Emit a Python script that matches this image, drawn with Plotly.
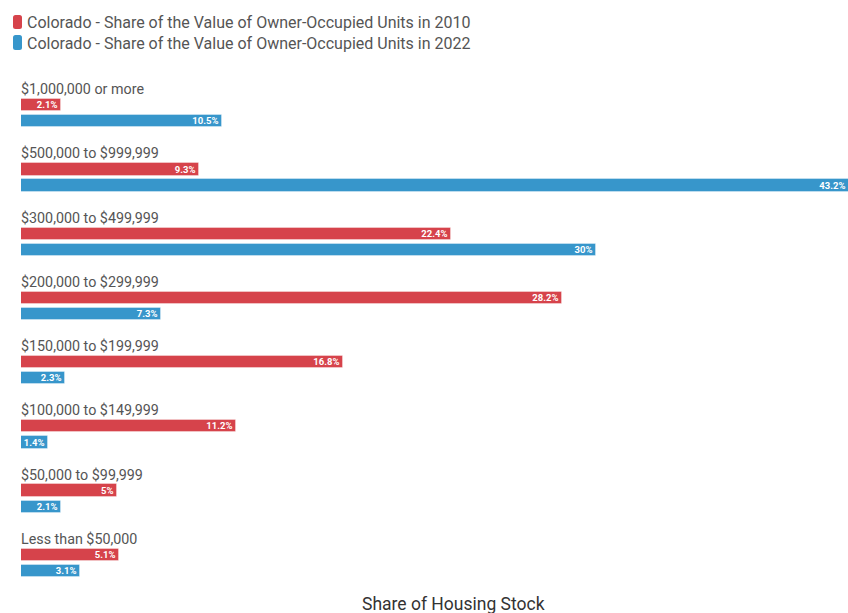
import plotly.graph_objects as go

# Value bands, top to bottom
categories = [
    "$1,000,000 or more",
    "$500,000 to $999,999",
    "$300,000 to $499,999",
    "$200,000 to $299,999",
    "$150,000 to $199,999",
    "$100,000 to $149,999",
    "$50,000 to $99,999",
    "Less than $50,000",
]
share_2010 = [2.1, 9.3, 22.4, 28.2, 16.8, 11.2, 5, 5.1]
share_2022 = [10.5, 43.2, 30, 7.3, 2.3, 1.4, 2.1, 3.1]
series_names = [
    "Colorado - Share of the Value of Owner-Occupied Units in 2010",
    "Colorado - Share of the Value of Owner-Occupied Units in 2022",
]
axis_title = "Share of Housing Stock"

RED = "#d6434b"
BLUE = "#3796cb"
W, H = 848, 613
M_L, M_R, M_T, M_B = 21, 0, 57, 10
PLOT_W = W - M_L - M_R
PLOT_H = H - M_T - M_B


def px_x(p):
    return (p - M_L) / PLOT_W


def px_y(p):
    return 1 + (M_T - p) / PLOT_H


def rounded_rect(x0, y0, x1, y1, r):
    """SVG path (paper coords) for a rectangle with rounded corners, given in pixels."""
    X = lambda p: px_x(p)
    Y = lambda p: px_y(p)
    return (
        f"M{X(x0 + r)},{Y(y0)} L{X(x1 - r)},{Y(y0)} Q{X(x1)},{Y(y0)} {X(x1)},{Y(y0 + r)} "
        f"L{X(x1)},{Y(y1 - r)} Q{X(x1)},{Y(y1)} {X(x1 - r)},{Y(y1)} "
        f"L{X(x0 + r)},{Y(y1)} Q{X(x0)},{Y(y1)} {X(x0)},{Y(y1 - r)} "
        f"L{X(x0)},{Y(y0 + r)} Q{X(x0)},{Y(y0)} {X(x0 + r)},{Y(y0)} Z"
    )


idx = list(range(len(categories)))
y_2010 = [i + 0.25 for i in idx]
y_2022 = [i + 0.5 for i in idx]

fig = go.Figure()
for ys, vals, color, name in [
    (y_2010, share_2010, RED, series_names[0]),
    (y_2022, share_2022, BLUE, series_names[1]),
]:
    fig.add_trace(go.Bar(
        orientation="h",
        x=vals,
        y=ys,
        name=name,
        width=0.19,
        marker=dict(color=color, line=dict(color="rgba(255,255,255,0.35)", width=1)),
        text=[f"{v:g}%" for v in vals],
        textposition="inside",
        insidetextanchor="end",
        textfont=dict(family="Roboto", size=9.5, color="white", weight="bold"),
        constraintext="none",
        hoverinfo="skip",
    ))

annotations = []
for i, cat in enumerate(categories):
    annotations.append(dict(
        x=0, y=i, xref="x", yref="y", text=cat, showarrow=False,
        xanchor="left", yanchor="middle", xshift=-2,
        font=dict(family="Roboto", size=14.3, color="#555555"),
    ))

# Legend drawn as rounded swatches with labels
legend_rows = [(22, 15, 29, RED, series_names[0]), (43, 35, 50, BLUE, series_names[1])]
shapes = []
for ty, y0, y1, color, name in legend_rows:
    shapes.append(dict(
        type="path", xref="paper", yref="paper",
        path=rounded_rect(13, y0, 22, y1, 2.5),
        fillcolor=color, line=dict(width=0), layer="above",
    ))
    annotations.append(dict(
        x=px_x(25), y=px_y(ty), xref="paper", yref="paper", text=name,
        showarrow=False, xanchor="left", yanchor="middle",
        font=dict(family="Roboto", size=16, color="#555555"),
    ))

annotations.append(dict(
    x=px_x(453), y=px_y(604), xref="paper", yref="paper", text=axis_title,
    showarrow=False, xanchor="center", yanchor="middle",
    font=dict(family="Roboto", size=17.5, color="#333333"),
))

fig.update_layout(
    width=W, height=H,
    margin=dict(l=M_L, r=M_R, t=M_T, b=M_B),
    paper_bgcolor="white", plot_bgcolor="white",
    showlegend=False,
    barmode="overlay",
    bargap=0,
    xaxis=dict(range=[0, 43.13], visible=False, fixedrange=True),
    yaxis=dict(range=[8.0, -0.5], visible=False, fixedrange=True),
    annotations=annotations,
    shapes=shapes,
)

fig.write_html("out.html")
